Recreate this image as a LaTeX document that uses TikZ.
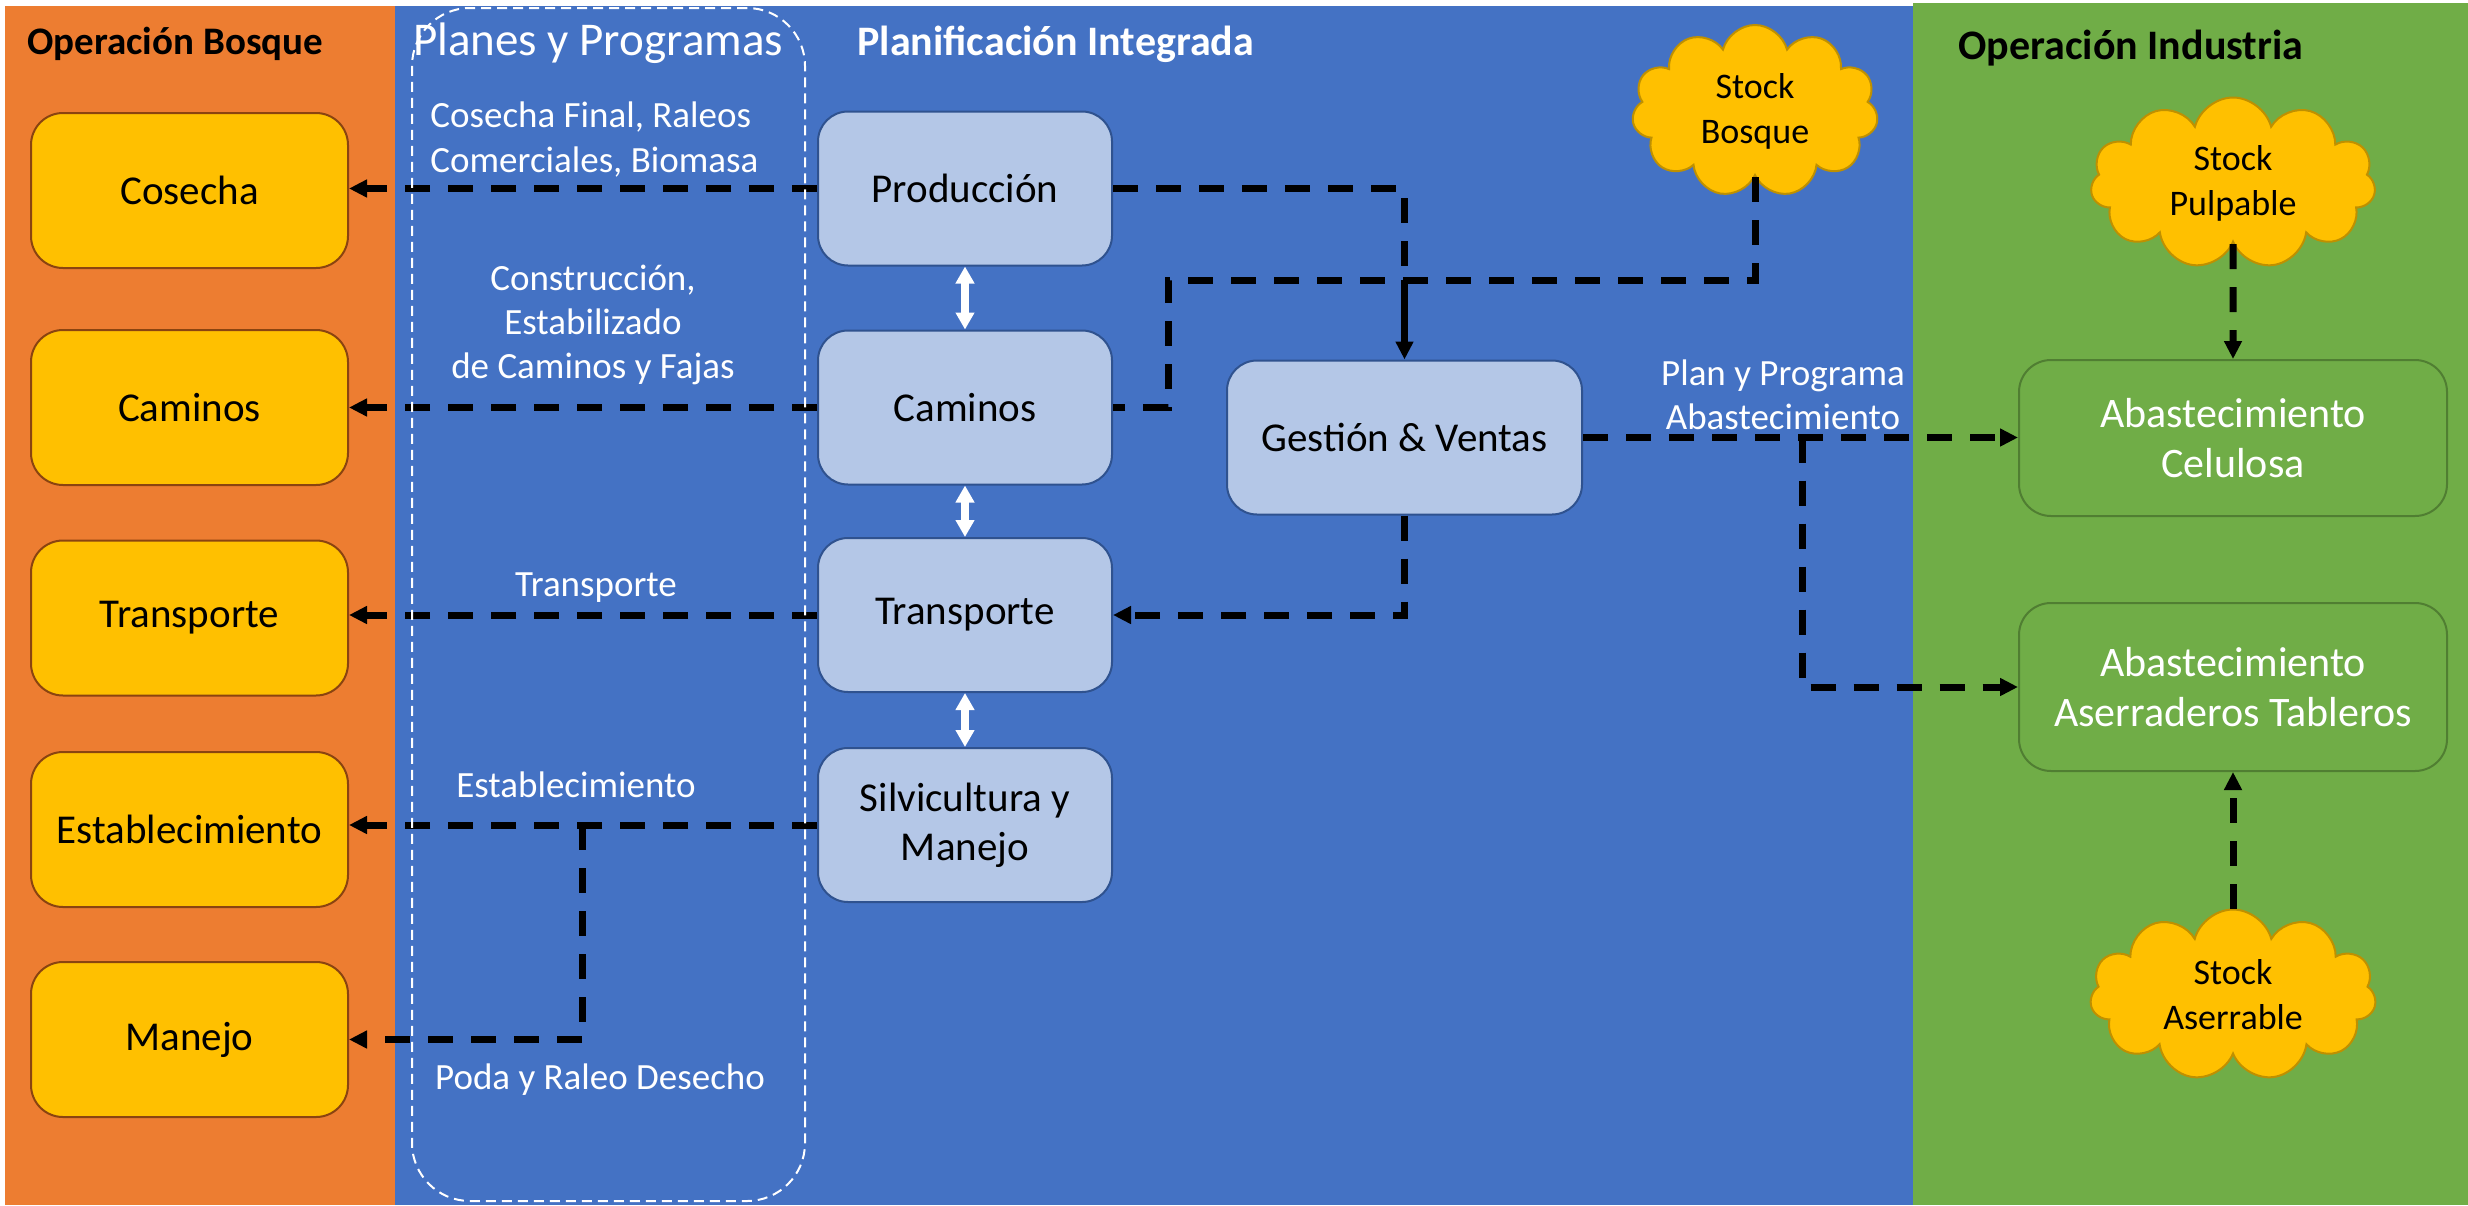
\documentclass[tikz,border=0pt]{standalone}
\usepackage{fontspec}
\setmainfont{Carlito}
\usetikzlibrary{arrows.meta,shapes.symbols}
\definecolor{cOrange}{HTML}{ED7D31}
\definecolor{cBlue}{HTML}{4472C4}
\definecolor{cGreen}{HTML}{70AD47}
\definecolor{cGold}{HTML}{FFC000}
\definecolor{cGoldEdge}{HTML}{BF9000}
\definecolor{cBrown}{HTML}{8A4410}
\definecolor{cLightBlue}{HTML}{B4C7E7}
\definecolor{cBlueEdge}{HTML}{2F528F}
\definecolor{cGreenEdge}{HTML}{507E32}
\begin{document}
\begin{tikzpicture}[x=0.5pt,y=-0.5pt,
  boxfont/.style={font=\fontsize{20.5}{24.6}\selectfont},
  opbox/.style={draw=cBrown, line width=1pt, fill=cGold, rounded corners=16pt,
    minimum width=158.5pt, minimum height=77.5pt, inner sep=0pt, align=center, boxfont},
  plbox/.style={draw=cBlueEdge, line width=1pt, fill=cLightBlue, rounded corners=15pt,
    minimum width=147pt, minimum height=77pt, inner sep=0pt, align=center, boxfont},
  gbox/.style={draw=cGreenEdge, line width=1pt, fill=cGreen, rounded corners=16pt,
    minimum width=214pt, inner sep=0pt, align=center, text=white,
    font=\fontsize{21}{25.2}\selectfont},
  stockcloud/.style={cloud, cloud puffs=11, cloud ignores aspect, draw=cGoldEdge,
    fill=cGold, line width=1pt, inner sep=0pt, align=center,
    font=\fontsize{18}{22.5}\selectfont},
  flow/.style={draw=black, line width=3.5pt, dash pattern=on 12.5pt off 9pt},
  tipped/.style={-{Triangle[length=9pt,width=8.5pt]}},
  dbl/.style={draw=white, line width=4pt,
    {Triangle[length=8.5pt,width=9pt]}-{Triangle[length=8.5pt,width=9pt]}},
  lbl/.style={text=white, inner sep=0pt, font=\fontsize{18.5}{22.2}\selectfont},
  ttl/.style={inner sep=0pt, font=\fontsize{21}{25}\selectfont\bfseries}
]
\useasboundingbox (0,0) rectangle (2468,1205);
\fill[white] (0,0) rectangle (2468,1205);
% panels
\fill[cOrange] (5,6) rectangle (395,1205);
\fill[cBlue] (395,6) rectangle (1913,1205);
\fill[cGreen] (1913,3) rectangle (2468,1205);

% titles
\node[ttl, anchor=base west, font=\fontsize{19.5}{24}\selectfont\bfseries] (tbosque) at (27,54) {Operación Bosque};
\node[lbl, anchor=base, font=\fontsize{23.5}{28}\selectfont] (tplanes) at (598,55) {Planes y Programas};
\node[ttl, anchor=base west, text=white] (tplan) at (857,55) {Planificación Integrada};
\node[ttl, anchor=base west] (tind) at (1958,59) {Operación Industria};

% forest operation boxes
\node[opbox] (cos) at (189.5,190.5) {Cosecha};
\node[opbox] (cam) at (189.5,407.5) {Caminos};
\node[opbox] (tra) at (189.5,618) {Transporte};
\node[opbox] (est) at (189.5,829.5) {Establecimiento};
\node[opbox] (man) at (189.5,1039.5) {Manejo};

% planning boxes
\node[plbox] (prod) at (965,188.5) {Producción};
\node[plbox] (pcam) at (965,407.5) {Caminos};
\node[plbox] (ptra) at (965,615) {Transporte};
\node[plbox] (sil) at (965,825) {Silvicultura y\\Manejo};
\node[plbox, minimum width=177.5pt] (gest) at (1404.5,437.5) {Gestión \& Ventas};

% industry boxes
\node[gbox, minimum height=78pt] (cel) at (2233,438) {Abastecimiento\\Celulosa};
\node[gbox, minimum height=84pt] (ase) at (2233,687) {Abastecimiento\\Aserraderos Tableros};

% clouds
\node[stockcloud, minimum width=123pt, minimum height=86pt] (sb) at (1755,111) {Stock\\Bosque};
\node[stockcloud, minimum width=142.5pt, minimum height=85.5pt] (sp) at (2233,183) {Stock\\Pulpable};
\node[stockcloud, minimum width=143pt, minimum height=85.5pt] (sa) at (2233,995) {Stock\\Aserrable};

% labels
\node[lbl, anchor=west, align=left] (l1) at (430,139.5) {Cosecha Final, Raleos\\Comerciales, Biomasa};
\node[lbl, align=center] (l2) at (593,325) {Construcción,\\Estabilizado\\de Caminos y Fajas};
\node[lbl, anchor=base] (l3) at (596,596) {Transporte};
\node[lbl, anchor=base] (l4) at (576,797) {Establecimiento};
\node[lbl, anchor=base] (l5) at (600,1089) {Poda y Raleo Desecho};
\node[lbl, align=center] (l6) at (1783,394.5) {Plan y Programa\\Abastecimiento};

% junctions
\coordinate (j1) at (1404.5,280);
\coordinate (j2) at (1168,280);
\coordinate (j3) at (1802,437.5);
\coordinate (j4) at (582,825);

% connectors to forest operations
\draw[flow, tipped] (prod.west) -- (prod.west -| cos.east);
\draw[flow, tipped] (pcam.west) -- (pcam.west -| cam.east);
\draw[flow, tipped] (ptra.west) -- (ptra.west -| tra.east);
\draw[flow, tipped] (sil.west) -- (sil.west -| est.east);
\draw[flow, tipped] (j4) |- (man.east);

% planning connectors
\draw[flow] (prod.east) -| (j1);
\draw[line width=3.5pt, tipped] (j1) -- (gest.north);
\draw[flow] (sb.south) |- (j2) |- (pcam.east);
\draw[flow, tipped] (gest.south) |- (ptra.east);
\draw[flow, tipped] (gest.east) -- (gest.east -| cel.west);
\draw[flow, tipped] (j3) |- (ase.west);
\draw[flow, tipped] (sp.south) -- (cel.north);
\draw[flow, tipped] (sa.north) -- (ase.south);

% white double arrows
\draw[dbl] (prod.south) -- (pcam.north);
\draw[dbl] (pcam.south) -- (ptra.north);
\draw[dbl] (ptra.south) -- (sil.north);

% dashed frame of plans
\node[draw=white, line width=1pt, dash pattern=on 5pt off 3pt, rounded corners=29pt,
  minimum width=196.5pt, minimum height=596.5pt, inner sep=0pt] (planes) at (608.5,604.5) {};
\end{tikzpicture}
\end{document}
